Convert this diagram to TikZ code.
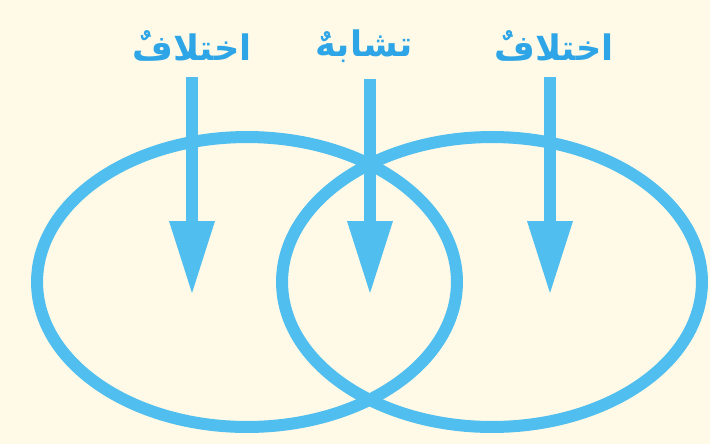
\documentclass[tikz,border=0pt]{standalone}
\usepackage{fontspec}
\newfontfamily\arabicfont[Script=Arabic]{DejaVu Sans}
\TeXXeTstate=1
\definecolor{vennblue}{RGB}{80,190,238}
\definecolor{labelblue}{RGB}{45,165,230}
\definecolor{paper}{RGB}{255,250,232}
\usetikzlibrary{arrows.meta,positioning,shapes.geometric}

\begin{document}
\begin{tikzpicture}[
  x=0.02cm,y=-0.02cm,
  setring/.style={draw=vennblue,ellipse,line width=0.24cm,
                  minimum width=8.4cm,minimum height=5.8cm,inner sep=0pt},
  tag/.style={font=\arabicfont\bfseries\fontsize{20}{22}\selectfont,
              text=labelblue,inner sep=2pt},
  arr/.style={-{Triangle[length=1.44cm,width=0.92cm,line width=0pt]},
              line width=0.24cm,draw=vennblue,shorten <=7pt},
]
  % background
  \fill[paper] (0,0) rectangle (710,444);
  \useasboundingbox (0,0) rectangle (710,444);

  % the two sets
  \node[setring] (setL) at (247,282) {};
  \node[setring] (setR) at (492,282) {};

  % labels
  \node[tag] (diffL) at (192,46) {\beginR اختلافٌ\endR};
  \node[tag] (same)  at (364,46) {\beginR تشابهٌ\endR};
  \node[tag] (diffR) at (554,46) {\beginR اختلافٌ\endR};

  % arrow ends
  \coordinate (endL) at (192,293);
  \coordinate (endM) at (370,293);
  \coordinate (endR) at (550,293);

  % arrows
  \draw[arr] (diffL.south -| endL) -- (endL);
  \draw[arr] (same.south -| endM)  -- (endM);
  \draw[arr] (diffR.south -| endR) -- (endR);
\end{tikzpicture}
\end{document}
